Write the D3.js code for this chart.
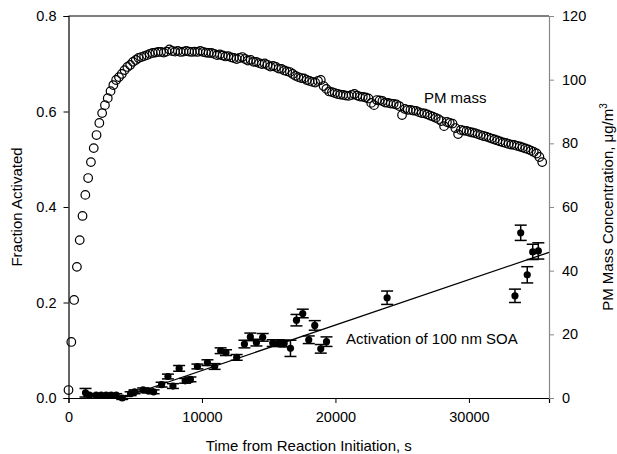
<!DOCTYPE html>
<html>
<head>
<meta charset="utf-8">
<script src="https://cdn.jsdelivr.net/npm/d3@7"></script>
<style>
  body { margin: 0; background: #fff; }
  text { font-family: "Liberation Sans", Arial, sans-serif; }
</style>
</head>
<body>
<div id="svg-holder"></div>
<script>
// PM mass (open circles, right axis), ug/m3
const massTime = [
  0,210,420,630,840,1050,1260,1470,1680,1890,
  2100,2310,2520,2730,2940,3150,3360,3570,3780,3990,
  4200,4410,4620,4830,5040,5250,5460,5670,5880,6090,
  6300,6510,6720,6930,7140,7350,7560,7770,7980,8190,
  8400,8610,8820,9030,9240,9450,9660,9870,10080,10290,
  10500,10710,10920,11130,11340,11550,11760,11970,12180,12390,
  12600,12810,13020,13230,13440,13650,13860,14070,14280,14490,
  14700,14910,15120,15330,15540,15750,15960,16170,16380,16590,
  16800,17010,17220,17430,17640,17850,18060,18270,18480,18690,
  18900,19110,19320,19530,19740,19950,20160,20370,20580,20790,
  21000,21210,21420,21630,21840,22050,22260,22470,22680,22890,
  23100,23310,23520,23730,23940,24150,24360,24570,24780,24990,
  25200,25410,25620,25830,26040,26250,26460,26670,26880,27090,
  27300,27510,27720,27930,28140,28350,28560,28770,28980,29190,
  29400,29610,29820,30030,30240,30450,30660,30870,31080,31290,
  31500,31710,31920,32130,32340,32550,32760,32970,33180,33390,
  33600,33810,34020,34230,34440,34650,34860,35070,35280,35490
];
const massValue = [
  2.5,17.6,30.8,41.2,49.6,57.2,63.8,69.1,74.1,78.5,
  82.6,86.4,89.5,92.0,94.2,96.4,98.3,99.9,100.8,101.8,
  103.0,104.0,104.6,105.6,106.2,106.8,107.1,107.4,107.7,108.1,
  108.4,108.5,108.7,108.7,108.5,108.8,109.5,109.0,108.8,109.0,
  108.7,108.8,109.0,108.8,108.7,108.8,108.7,109.0,108.7,108.5,
  108.4,108.4,108.1,107.7,107.9,107.6,107.3,107.4,107.0,106.8,
  106.5,106.8,107.1,106.5,106.0,106.2,105.6,105.6,105.2,104.9,
  105.1,104.6,104.1,104.3,104.0,103.5,103.4,102.9,102.6,102.4,
  101.8,101.2,100.8,100.5,100.4,99.9,99.6,99.3,99.1,99.6,
  99.9,98.0,97.1,96.3,96.1,95.8,95.5,95.3,95.2,95.0,
  94.9,95.2,95.5,95.0,94.7,94.6,94.4,94.1,92.7,92.0,
  93.6,93.5,93.3,92.8,92.7,92.5,92.4,92.2,91.7,88.9,
  90.8,90.5,90.5,90.3,90.2,89.8,89.5,89.4,89.1,88.7,
  88.4,88.0,87.6,87.0,85.4,86.7,86.4,86.2,84.8,82.9,
  84.2,84.0,83.9,83.6,83.4,83.2,82.9,82.6,82.3,82.1,
  81.8,81.5,81.2,80.9,80.6,80.3,80.1,79.8,79.6,79.5,
  79.2,79.0,78.7,78.4,78.1,77.7,77.3,76.8,75.7,74.1
];

// activation of 100 nm SOA (filled dots, left axis)
const soaTime = [1275,1575,2075,2450,2825,3200,3575,4025,4650,4950,
  5590,5960,6375,6975,7450,7825,8290,8740,9135,9660,
  10410,10950,11400,11800,12600,13180,13625,14080,14550,15300,
  15750,16160,16630,17080,17550,18000,18450,18900,19330,23870,
  33450,33880,34370,34780,35200];
const soaFrac = [0.011,0.006,0.006,0.006,0.006,0.006,0.006,0.000,0.009,0.013,
  0.017,0.015,0.013,0.028,0.045,0.025,0.062,0.036,0.039,0.066,
  0.074,0.066,0.099,0.095,0.085,0.113,0.128,0.116,0.127,0.115,
  0.115,0.114,0.104,0.163,0.177,0.122,0.152,0.103,0.118,0.210,
  0.214,0.346,0.258,0.306,0.308];
const soaErr = [0.009,0.003,0.003,0.003,0.003,0.003,0.003,0.003,0.004,0.004,
  0.004,0.004,0.004,0.005,0.005,0.005,0.006,0.005,0.005,0.005,
  0.006,0.006,0.006,0.006,0.006,0.008,0.008,0.007,0.008,0.007,
  0.007,0.007,0.017,0.012,0.009,0.008,0.010,0.009,0.010,0.014,
  0.014,0.016,0.017,0.016,0.017];

// linear fit
const fitTime = [3950, 36000];
const fitFrac = [0, 0.305];

const xTicks = [0, 10000, 20000, 30000];
const leftTicks = [0, 0.2, 0.4, 0.6, 0.8];
const rightTicks = [0, 20, 40, 60, 80, 100, 120];

const W = 617, H = 454;
const plot = {left: 68.5, right: 549, top: 16, bottom: 398};

const svg = d3.select("#svg-holder").append("svg")
  .attr("width", W).attr("height", H);

const x = d3.scaleLinear().domain([0, 36000]).range([plot.left, plot.right]);
const yL = d3.scaleLinear().domain([0, 0.8]).range([plot.bottom, plot.top]);
const yR = d3.scaleLinear().domain([0, 120]).range([plot.bottom, plot.top]);

// top frame line
svg.append("line")
  .attr("x1", plot.left).attr("x2", plot.right)
  .attr("y1", plot.top).attr("y2", plot.top)
  .attr("stroke", "#000").attr("stroke-width", 1.2);

const fs = 14.5;

let gx = svg.append("g")
  .attr("transform", "translate(0," + plot.bottom + ")")
  .call(d3.axisBottom(x).tickValues(xTicks).tickFormat(d3.format("d"))
    .tickSizeOuter(0).tickSize(5).tickPadding(9));

let gl = svg.append("g")
  .attr("transform", "translate(" + plot.left + ",0)")
  .call(d3.axisLeft(yL).tickValues(leftTicks).tickFormat(d3.format(".1f"))
    .tickSizeOuter(0).tickSize(5).tickPadding(7));

let gr = svg.append("g")
  .attr("transform", "translate(" + plot.right + ",0)")
  .call(d3.axisRight(yR).tickValues(rightTicks)
    .tickSizeOuter(0).tickSize(5).tickPadding(8));

[gx, gl].forEach(g => {
  g.select(".domain").attr("stroke", "#000").attr("stroke-width", 1.2);
  g.selectAll(".tick line").attr("stroke", "#000").attr("stroke-width", 1);
});
gr.select(".domain").attr("stroke", "#888").attr("stroke-width", 1.2);
gr.selectAll(".tick line").attr("stroke", "#888");
svg.selectAll(".tick text")
  .style("font-family", '"Liberation Sans", Arial, sans-serif')
  .style("font-size", fs + "px").attr("fill", "#000");

// PM mass
svg.append("g")
  .selectAll("circle")
  .data(massTime.map((t, i) => ({t: t, v: massValue[i]})))
  .join("circle")
    .attr("cx", d => x(d.t))
    .attr("cy", d => yR(d.v))
    .attr("r", 4.3)
    .attr("fill", "none")
    .attr("stroke", "#000")
    .attr("stroke-width", 1.2);

// fit line
svg.append("line")
  .attr("x1", x(fitTime[0])).attr("y1", yL(fitFrac[0]))
  .attr("x2", x(fitTime[1])).attr("y2", yL(fitFrac[1]))
  .attr("stroke", "#000").attr("stroke-width", 1.3);

const soa = soaTime.map((t, i) => ({t: t, f: soaFrac[i], e: soaErr[i]}));

const bars = svg.append("g").attr("stroke", "#000").attr("stroke-width", 1.5);
bars.selectAll(".eb")
  .data(soa)
  .join("line")
    .attr("x1", d => x(d.t)).attr("x2", d => x(d.t))
    .attr("y1", d => yL(d.f - d.e)).attr("y2", d => yL(d.f + d.e));
["lo", "hi"].forEach(k => {
  bars.selectAll(".cap-" + k)
    .data(soa)
    .join("line")
      .attr("class", "cap-" + k)
      .attr("x1", d => x(d.t) - 6).attr("x2", d => x(d.t) + 6)
      .attr("y1", d => yL(k === "lo" ? d.f - d.e : d.f + d.e))
      .attr("y2", d => yL(k === "lo" ? d.f - d.e : d.f + d.e));
});

svg.append("g")
  .selectAll("circle")
  .data(soa)
  .join("circle")
    .attr("cx", d => x(d.t))
    .attr("cy", d => yL(d.f))
    .attr("r", 3.6)
    .attr("fill", "#000");

// annotations
svg.append("text")
  .attr("x", x(26630)).attr("y", yR(92.8))
  .style("font-size", "15px")
  .text("PM mass");

svg.append("text")
  .attr("x", x(20790)).attr("y", yL(0.114))
  .style("font-size", "15px")
  .text("Activation of 100 nm SOA");

// axis titles
svg.append("text")
  .attr("x", (plot.left + plot.right) / 2).attr("y", 451)
  .attr("text-anchor", "middle")
  .style("font-size", "15px")
  .text("Time from Reaction Initiation, s");

svg.append("text")
  .attr("transform", "translate(22," + (plot.top + plot.bottom) / 2 + ") rotate(-90)")
  .attr("text-anchor", "middle")
  .style("font-size", "15px")
  .text("Fraction Activated");

let rt = svg.append("text")
  .attr("transform", "translate(613," + (plot.top + plot.bottom) / 2 + ") rotate(-90)")
  .attr("text-anchor", "middle")
  .style("font-size", "15px");
rt.append("tspan").text("PM Mass Concentration, \u03bcg/m");
rt.append("tspan").attr("dy", -6).style("font-size", "10px").text("3");
</script>
</body>
</html>
